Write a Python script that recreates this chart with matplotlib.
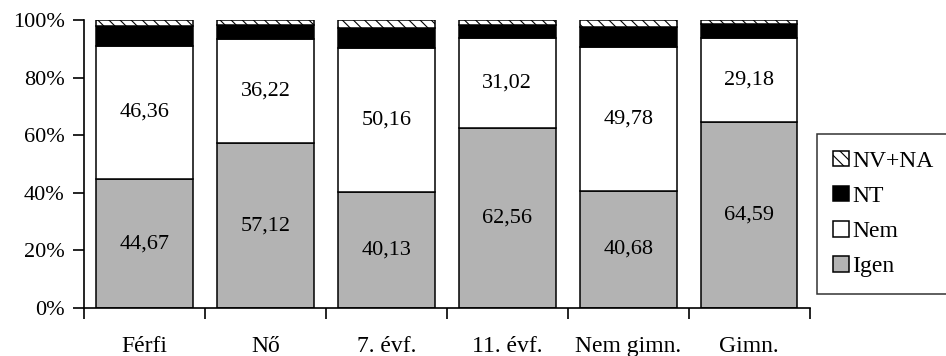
import matplotlib
matplotlib.use("Agg")
import matplotlib.pyplot as plt
import numpy as np

# shares (%) per group
categories = ["Férfi", "Nő", "7. évf.", "11. évf.", "Nem gimn.", "Gimn."]
igen = [44.67, 57.12, 40.13, 62.56, 40.68, 64.59]
nem = [46.36, 36.22, 50.16, 31.02, 49.78, 29.18]
nt = [6.7, 5.0, 6.8, 4.7, 7.0, 4.8]
nvna = [2.27, 1.66, 2.91, 1.72, 2.54, 1.43]

plt.rcParams["font.family"] = ["Liberation Serif", "DejaVu Serif"]
plt.rcParams["hatch.linewidth"] = 0.8

fig = plt.figure(figsize=(9.46, 3.56), dpi=100)
ax = fig.add_axes([0.0888, 0.135, 0.767, 0.809])

x = np.arange(len(categories))
w = 0.8
kw = dict(width=w, edgecolor="black", linewidth=1.1)
b1 = ax.bar(x, igen, color="#b3b3b3", label="Igen", **kw)
b2 = ax.bar(x, nem, bottom=igen, color="white", label="Nem", **kw)
bot3 = np.add(igen, nem)
b3 = ax.bar(x, nt, bottom=bot3, color="black", label="NT", **kw)
bot4 = bot3 + np.array(nt)
b4 = ax.bar(x, nvna, bottom=bot4, color="white", hatch="\\\\\\", label="NV+NA", **kw)

for i in x:
    ax.text(i, igen[i] / 2, f"{igen[i]:.2f}".replace(".", ","), ha="center", va="center", fontsize=16)
    ax.text(i, igen[i] + nem[i] / 2, f"{nem[i]:.2f}".replace(".", ","), ha="center", va="center", fontsize=16)

ax.set_xlim(-0.5, len(categories) - 0.5)
ax.set_ylim(0, 100)
ax.set_yticks(range(0, 101, 20))
ax.set_yticklabels([f"{v}%" for v in range(0, 101, 20)], fontsize=16)
ax.tick_params(axis="y", direction="out", length=8, width=1.2, pad=6)

# category labels centred, tick marks at the boundaries
ax.set_xticks(np.arange(-0.5, len(categories), 1.0))
ax.set_xticklabels([])
ax.tick_params(axis="x", direction="out", length=8, width=1.2)
for i, c in enumerate(categories):
    ax.text(i, -15.3, c, ha="center", va="baseline", fontsize=17)

for s in ("top", "right"):
    ax.spines[s].set_visible(False)
for s in ("left", "bottom"):
    ax.spines[s].set_linewidth(1.2)

leg = fig.legend([b4, b3, b2, b1], ["NV+NA", "NT", "Nem", "Igen"],
                 loc="upper left", bbox_to_anchor=(0.8636, 0.6236), fontsize=17,
                 frameon=True, fancybox=False, edgecolor="black", borderpad=0.7,
                 borderaxespad=0, handlelength=0.64, handleheight=0.64,
                 handletextpad=0.15, labelspacing=0.6)
leg.get_frame().set_linewidth(1.1)

fig.savefig("out.png", dpi=100)
